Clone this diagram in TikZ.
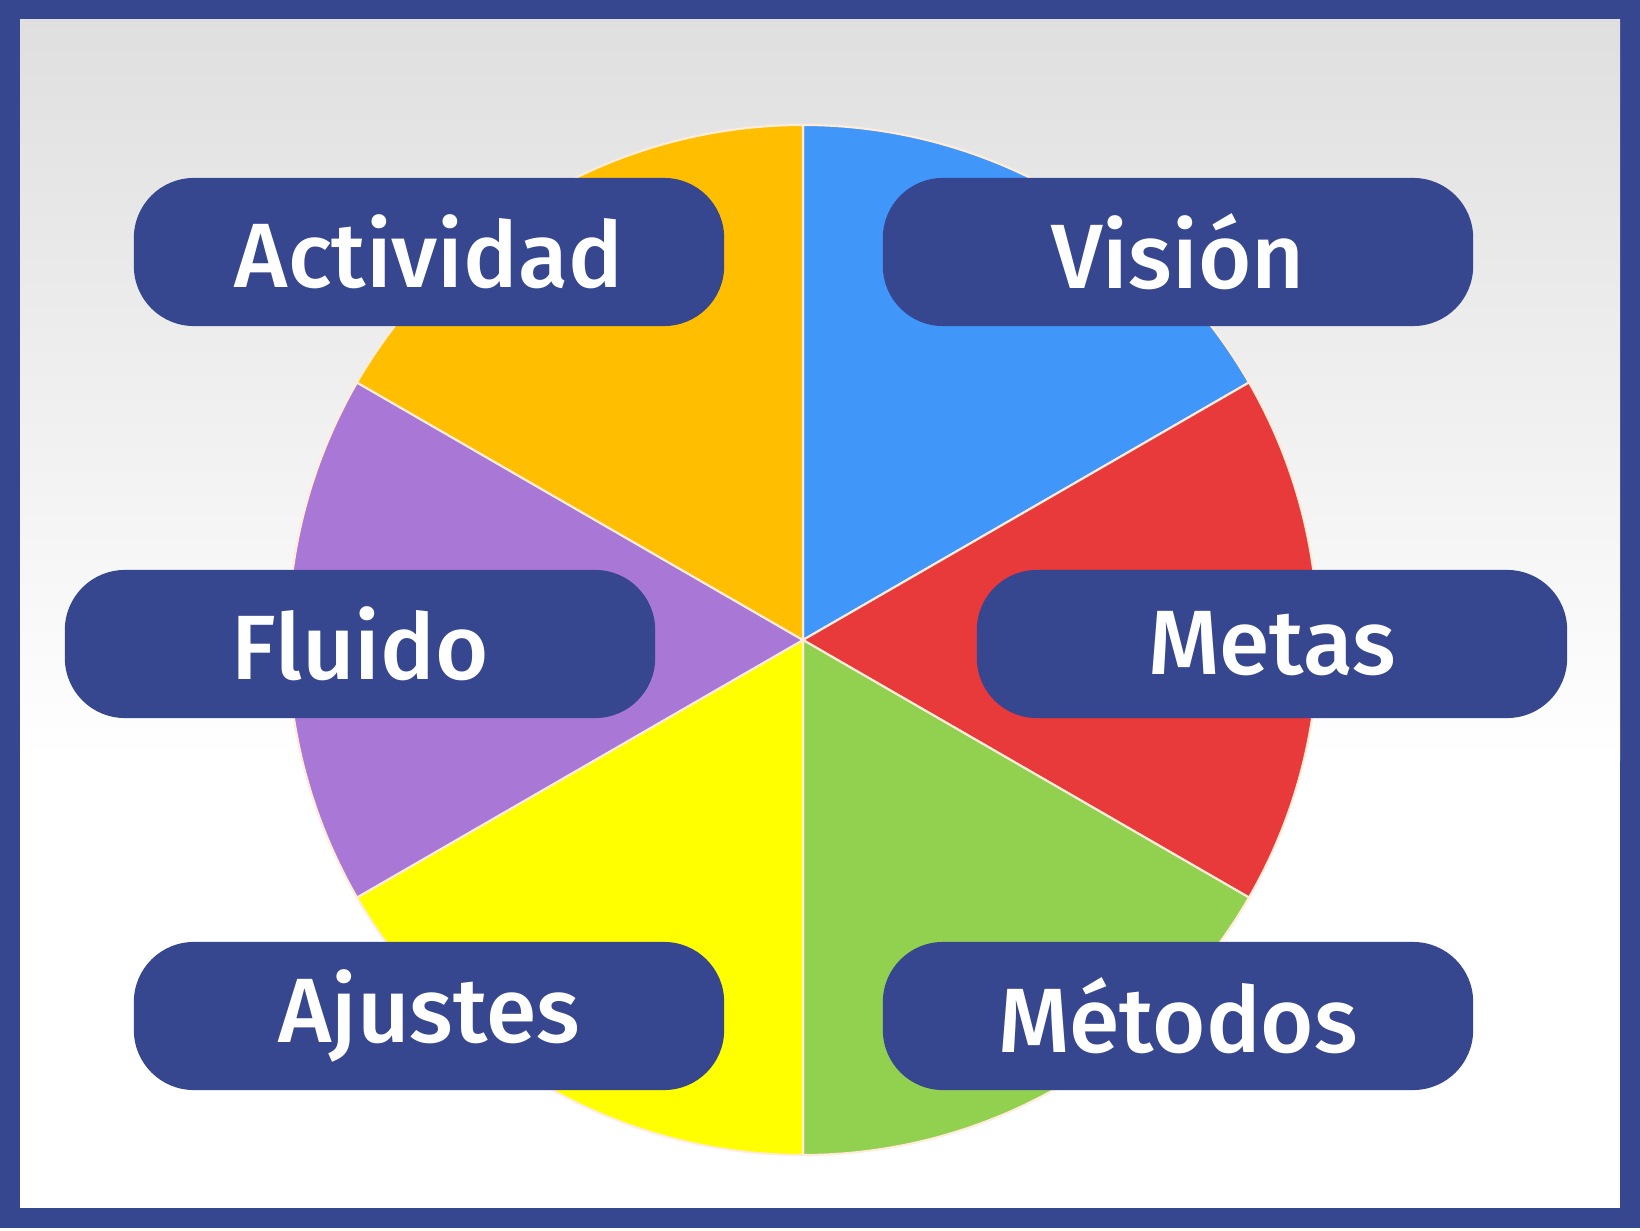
\documentclass[tikz,border=0pt]{standalone}
\usepackage{fontspec}
\setmainfont{Fira Sans}[BoldFont={Fira Sans Medium}]
\definecolor{frame}{HTML}{36468F}
\definecolor{cblue}{HTML}{4196FA}
\definecolor{cred}{HTML}{E83A3A}
\definecolor{cgreen}{HTML}{92D050}
\definecolor{cyellow}{HTML}{FFFF00}
\definecolor{cpurple}{HTML}{A977D6}
\definecolor{corange}{HTML}{FFBE00}
\tikzset{
  label box/.style={draw=none, fill=frame, rounded corners=0.6cm, minimum width=5.9cm,
    minimum height=1.48cm, text=white, font=\fontsize{26}{30}\selectfont\bfseries},
  sector line/.style={draw=white!85!orange, line width=0.6pt}
}
\begin{document}
\begin{tikzpicture}[x=0.01cm, y=-0.01cm]
  % frame and background
  \useasboundingbox (0,0) rectangle (1640,1231);
  \fill[frame] (0,0) rectangle (1640,1228);
  \fill[white] (20,20) rectangle (1620,1208);
  \shade[top color=gray!25, bottom color=white] (20,20) rectangle (1620,760);

  % wheel
  \coordinate (c) at (803,640);
  \foreach \a/\col in {30/cblue, -30/cred, -90/cgreen, -150/cyellow, 150/cpurple, 90/corange}
    \fill[\col, sector line] (c) -- ++(\a:515 and -515) arc[start angle=\a, delta angle=60, x radius=515, y radius=-515] -- cycle;

  % labels
  \node[label box] (actividad) at (429,252) {Actividad};
  \node[label box] (vision) at (1178,252) {Visión};
  \node[label box] (fluido) at (360,644) {Fluido};
  \node[label box] (metas) at (1272,644) {Metas};
  \node[label box] (ajustes) at (429,1016) {Ajustes};
  \node[label box] (metodos) at (1178,1016) {Métodos};
\end{tikzpicture}
\end{document}
